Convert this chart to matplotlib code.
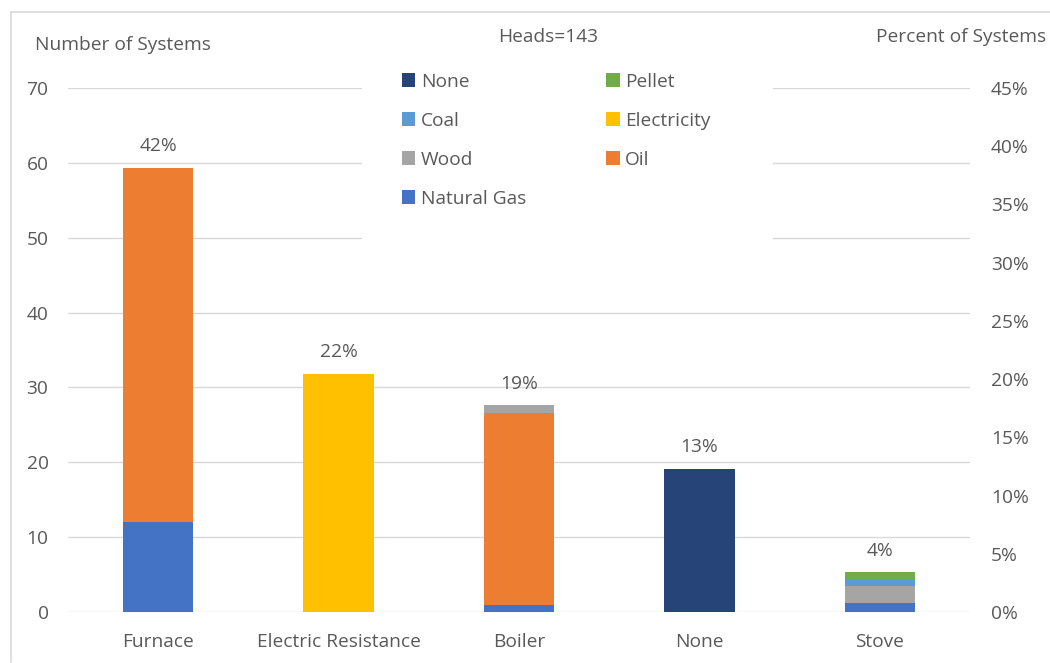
import matplotlib
matplotlib.use("Agg")
import matplotlib.pyplot as plt
import numpy as np
from matplotlib.patches import Patch, Rectangle
from matplotlib.lines import Line2D
from matplotlib.ticker import FuncFormatter, MultipleLocator

categories = ["Furnace", "Electric Resistance", "Boiler", "None", "Stove"]
natural_gas = [12, 0, 1.0, 0, 1.2]
oil = [47.3, 0, 25.6, 0, 0]
electricity = [0, 31.8, 0, 0, 0]
wood = [0, 0, 1.0, 0, 2.3]
coal = [0, 0, 0, 0, 0.9]
pellet = [0, 0, 0, 0, 0.9]
none_vals = [0, 0, 0, 19.1, 0]
pct_labels = ["42%", "22%", "19%", "13%", "4%"]

series = [
    ("Natural Gas", natural_gas, "#4472C4"),
    ("Oil", oil, "#ED7D31"),
    ("Electricity", electricity, "#FFC000"),
    ("Wood", wood, "#A5A5A5"),
    ("Coal", coal, "#5B9BD5"),
    ("Pellet", pellet, "#70AD47"),
    ("None", none_vals, "#264478"),
]
colors = {name: c for name, _, c in series}
legend_order = ["None", "Coal", "Wood", "Natural Gas", "Pellet", "Electricity", "Oil"]

plt.rcParams['font.family'] = ['Open Sans', 'DejaVu Sans']
TXT = "#595959"
GRID = "#D9D9D9"
FS = 13.8

W, H = 1050, 663
fig = plt.figure(figsize=(W / 100, H / 100), dpi=100)
fig.patch.set_facecolor("white")

def fx(px):
    return px / W

def fy(py):
    return 1 - py / H

ax = fig.add_axes([fx(68), fy(612), fx(970) - fx(68), fy(88) - fy(612)])
x = np.arange(len(categories))
bottom = np.zeros(len(categories))
for name, vals, c in series:
    v = np.array(vals, dtype=float)
    ax.bar(x, v, width=0.39, bottom=bottom, color=c, zorder=2, linewidth=0)
    bottom += v
for xi, tot, lab in zip(x, bottom, pct_labels):
    ax.text(xi, tot + 2.9, lab, ha="center", va="center", fontsize=FS, color=TXT, zorder=3)

ax.set_xlim(-0.5, len(categories) - 0.5)
ax.set_ylim(0, 70)
ax.yaxis.set_major_locator(MultipleLocator(10))
ax.set_axisbelow(True)
ax.grid(axis="y", color=GRID, linewidth=1)
for s in ax.spines.values():
    s.set_visible(False)
ax.set_xticks(x)
ax.set_xticklabels(categories)
ax.tick_params(axis="both", length=0, labelsize=FS, colors=TXT)
ax.tick_params(axis="y", pad=14)
ax.tick_params(axis="x", pad=15)

ax2 = ax.twinx()
ax2.set_ylim(0, 0.45)
ax2.yaxis.set_major_locator(MultipleLocator(0.05))
ax2.yaxis.set_major_formatter(FuncFormatter(lambda v, p: f"{round(v*100):d}%"))
ax2.tick_params(axis="y", length=0, labelsize=FS, colors=TXT, pad=15)
for s in ax2.spines.values():
    s.set_visible(False)

# white area behind legend covering gridlines
ax.add_patch(Rectangle((fx(362), fy(245)), fx(773) - fx(362), fy(60) - fy(245),
                       transform=fig.transFigure, facecolor="white", edgecolor="none", zorder=1))

handles = [Patch(facecolor=colors[n], edgecolor="none") for n in legend_order]
leg = fig.legend(handles, legend_order, ncol=2, loc="upper left",
                 bbox_to_anchor=(fx(392), fy(63)), frameon=False,
                 fontsize=FS, handlelength=0.7, handleheight=0.7, handletextpad=0.3,
                 labelspacing=1.1, columnspacing=4.18, borderpad=0)
for t in leg.get_texts():
    t.set_color(TXT)

fig.text(fx(35), fy(50), "Number of Systems", ha="left", va="baseline", fontsize=FS, color=TXT)
fig.text(fx(548), fy(42), "Heads=143", ha="center", va="baseline", fontsize=FS, color=TXT)
fig.text(fx(1046), fy(42), "Percent of Systems", ha="right", va="baseline", fontsize=FS, color=TXT)

# outer chart border
fig.add_artist(Line2D([fx(11), fx(11)], [fy(12), fy(662)], transform=fig.transFigure, color=GRID, linewidth=1.2))
fig.add_artist(Line2D([fx(11), fx(1050)], [fy(12), fy(12)], transform=fig.transFigure, color=GRID, linewidth=1.2))

fig.savefig("out.png", dpi=100)
